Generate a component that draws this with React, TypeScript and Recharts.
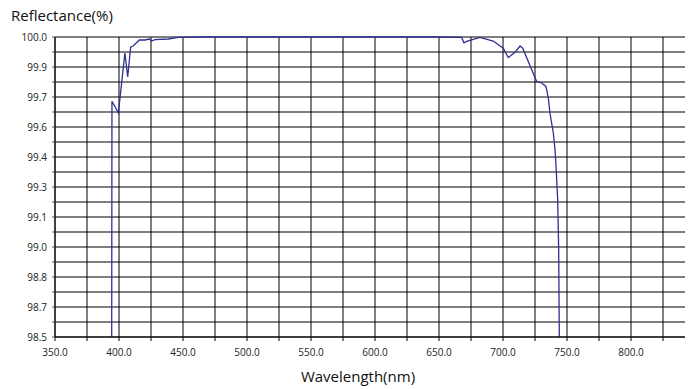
import React from "react";
import { LineChart, Line, XAxis, YAxis, CartesianGrid } from "recharts";

const wavelength = [
  394.3, 394.5, 399.5, 404.6, 406.8, 409.1, 411.0, 415.9, 420.3, 423.7,
  425.5, 428.1, 438.5, 446.3, 460.0, 500.0, 550.0, 600.0, 650.0, 667.7,
  669.5, 671.6, 682.0, 692.4, 700.2, 704.1, 709.4, 713.3, 715.4, 726.3,
  730.2, 733.6, 735.4, 736.7, 739.3, 740.6, 741.4, 742.7, 743.5, 744.0,
];
const reflectance = [
  98.5, 99.679, 99.621, 99.92, 99.8, 99.949, 99.955, 99.985, 99.985, 99.99,
  99.98, 99.987, 99.99, 99.998, 100.0, 100.0, 100.0, 100.0, 100.0, 99.998,
  99.971, 99.978, 99.998, 99.98, 99.944, 99.897, 99.924, 99.955, 99.944, 99.778,
  99.77, 99.753, 99.695, 99.62, 99.52, 99.44, 99.356, 99.19, 98.94, 98.5,
];

const xTicks = [350, 375, 400, 425, 450, 475, 500, 525, 550, 575, 600, 625, 650, 675, 700, 725, 750, 775, 800, 825];
const xTickLabels = ["350.0", "", "400.0", "", "450.0", "", "500.0", "", "550.0", "", "600.0", "", "650.0", "", "700.0", "", "750.0", "", "800.0", ""];

const yTicks = [
  98.5, 98.575, 98.65, 98.725, 98.8, 98.875, 98.95, 99.025, 99.1, 99.175, 99.25,
  99.325, 99.4, 99.475, 99.55, 99.625, 99.7, 99.775, 99.85, 99.925, 100.0,
];
const yTickLabels = [
  "98.5", "", "98.7", "", "98.8", "", "99.0", "", "99.1", "", "99.3",
  "", "99.4", "", "99.6", "", "99.7", "", "99.9", "", "100.0",
];

const data = wavelength.map((w, i) => ({ w, r: reflectance[i] }));

const FONT = "'Open Sans', sans-serif";
const tickStyle = { fontSize: 10, fill: "#222", fontFamily: FONT };

export default function App() {
  return (
    <div style={{ position: "relative", width: 693, height: 389, margin: "-8px 0 0 -8px", overflow: "hidden", background: "#fff" }}>
      <LineChart width={700} height={389} data={data} margin={{ top: 37, right: 5, bottom: 0, left: 0 }}>
        <CartesianGrid vertical={false} stroke="#555" strokeWidth={1.3} />
        <CartesianGrid horizontal={false} stroke="#000" strokeWidth={1} />
        <XAxis
          dataKey="w"
          type="number"
          domain={[350, 850]}
          ticks={xTicks}
          interval={0}
          height={52}
          tickSize={4}
          tickMargin={8}
          stroke="#000"
          tickFormatter={(_v: number, i: number) => xTickLabels[i]}
          tick={tickStyle}
        />
        <YAxis
          type="number"
          domain={[98.5, 100]}
          ticks={yTicks}
          interval={0}
          width={55}
          tickSize={3}
          tickMargin={5}
          stroke="#000"
          tickLine={{ stroke: "#555" }}
          tickFormatter={(_v: number, i: number) => yTickLabels[i]}
          tick={tickStyle}
        />
        <Line
          dataKey="r"
          type="linear"
          stroke="#2e3192"
          strokeWidth={1.3}
          dot={false}
          isAnimationActive={false}
        />
      </LineChart>
      <svg width={693} height={389} style={{ position: "absolute", left: 0, top: 0, pointerEvents: "none" }}>
        <text x={11} y={21} fontSize={15} fontFamily={FONT} fill="#111">Reflectance(%)</text>
        <text x={358} y={382} fontSize={15} fontFamily={FONT} fill="#111" textAnchor="middle">Wavelength(nm)</text>
      </svg>
    </div>
  );
}
